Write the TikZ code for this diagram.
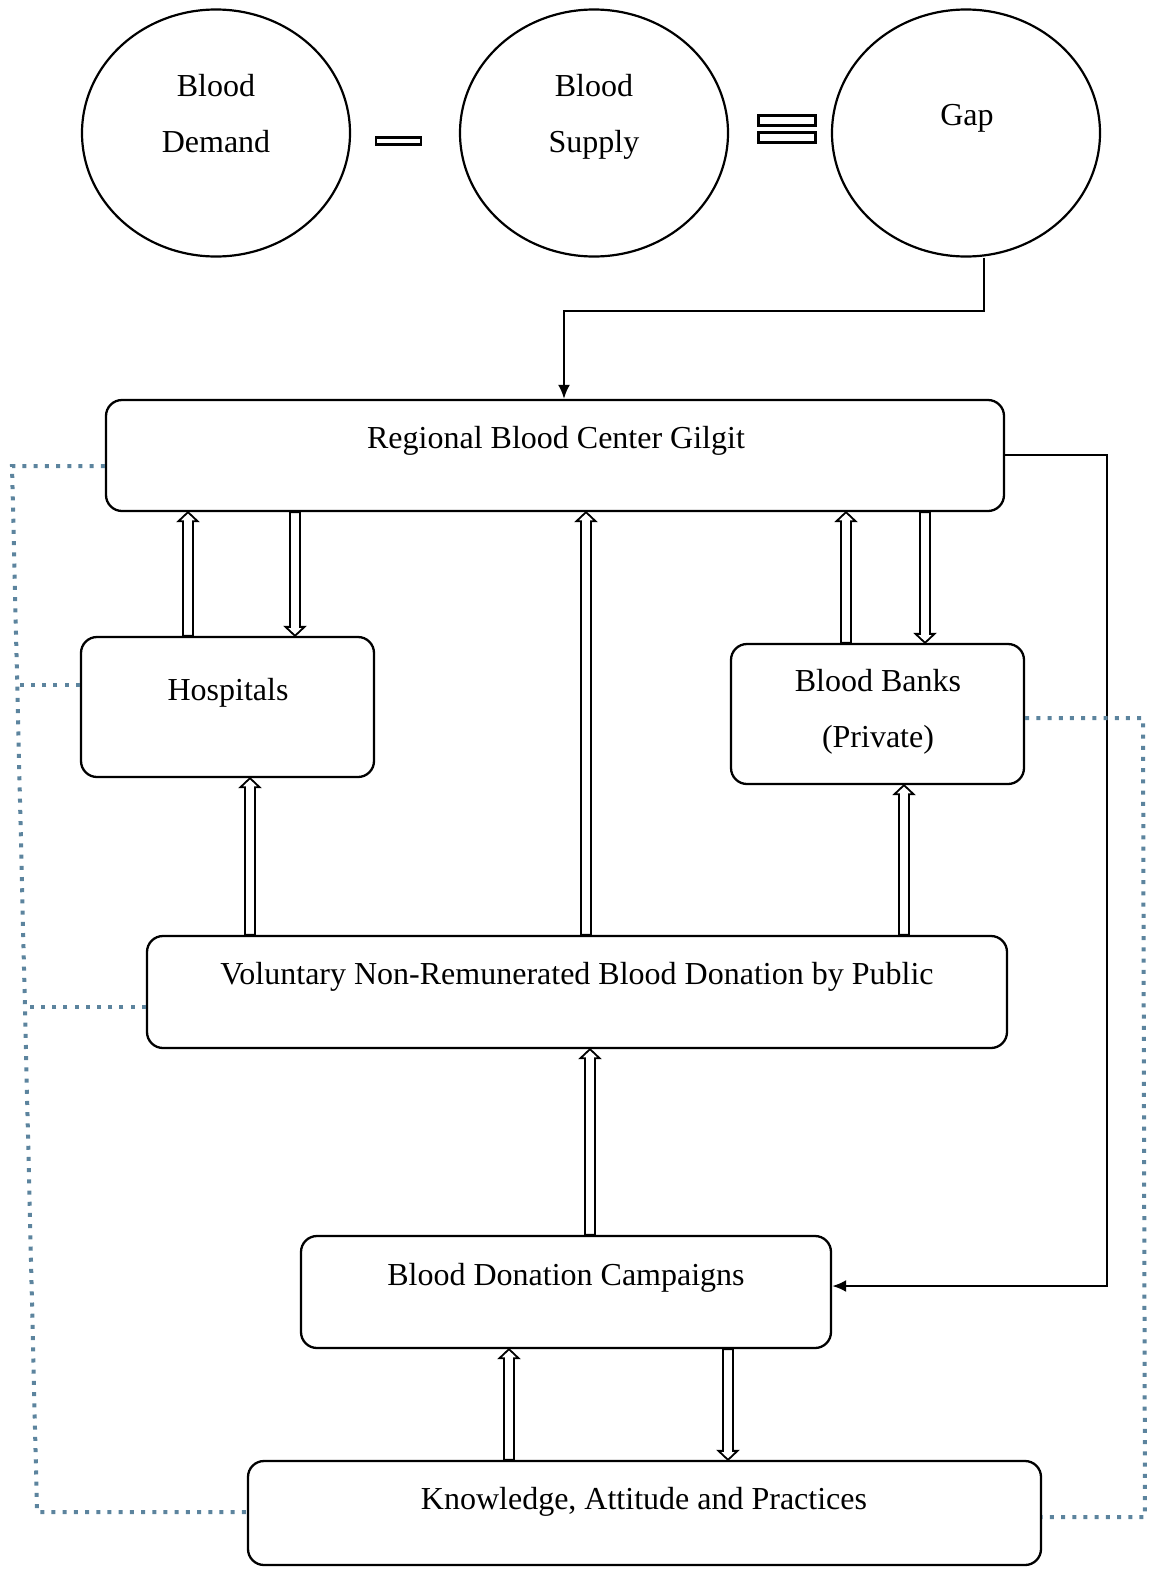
\documentclass[tikz,border=0pt]{standalone}
\usepackage{fontspec}
\setmainfont{Liberation Serif}
\usetikzlibrary{arrows.meta,calc,shapes.geometric}
\definecolor{dotc}{RGB}{92,132,158}
\begin{document}
\begin{tikzpicture}[x=1pt,y=-1pt,
  txt/.style={font=\fontsize{32}{56}\selectfont, anchor=base, inner sep=0pt},
  circ/.style={draw, line width=2.2pt, ellipse, minimum width=268pt, minimum height=247pt, inner sep=0pt},
  box/.style={draw, line width=2.3pt, rounded corners=16pt, inner sep=0pt},
  sym/.style={draw, line width=2.1pt, inner sep=0pt},
  conn/.style={draw, line width=2.3pt, -{Latex[length=14pt,width=12pt]}},
  dots/.style={draw=dotc, line width=4pt, dash pattern=on 4pt off 7.2pt},
  hollow/.style={line width=1.8pt, to path={let \p1=(\tikztostart), \p2=(\tikztotarget), \n1={sign(\y2-\y1)} in
     ({\x1-5pt},\y1) -- ({\x1-5pt},{\y2-\n1*9pt}) -- ({\x1-9.5pt},{\y2-\n1*9pt}) -- (\x1,\y2)
     -- ({\x1+9.5pt},{\y2-\n1*9pt}) -- ({\x1+5pt},{\y2-\n1*9pt}) -- ({\x1+5pt},\y1) -- cycle}}
]
\useasboundingbox (0,0) rectangle (1151,1569);

% circles
\node[circ] (dem) at (216,133) {};
\node[circ] (sup) at (594,133) {};
\node[circ] (gap) at (966,133) {};
\node[txt] (demt1) at (216,96) {Blood};
\node[txt] (demt2) at (216,152) {Demand};
\node[txt] (supt1) at (594,96) {Blood};
\node[txt] (supt2) at (594,152) {Supply};
\node[txt] (gapt) at (967,125) {Gap};

% minus and equals
\node[sym, minimum width=45pt, minimum height=7pt] (minus) at (398.5,141) {};
\node[sym, minimum width=57pt, minimum height=10pt] (eq1) at (787,120.5) {};
\node[sym, minimum width=57pt, minimum height=10pt] (eq2) at (787,137.5) {};

% boxes
\node[box, minimum width=898pt, minimum height=111pt] (rbc) at (555,455.5) {};
\node[box, minimum width=293pt, minimum height=140pt] (hosp) at (227.5,707) {};
\node[box, minimum width=293pt, minimum height=140pt] (bb) at (877.5,714) {};
\node[box, minimum width=860pt, minimum height=112pt] (vn) at (577,992) {};
\node[box, minimum width=530pt, minimum height=112pt] (camp) at (566,1292) {};
\node[box, minimum width=793pt, minimum height=104pt] (kap) at (644.5,1513) {};

\node[txt] (rbct) at (556,448) {Regional Blood Center Gilgit};
\node[txt] (hospt) at (228,700) {Hospitals};
\node[txt] (bbt1) at (878,691) {Blood Banks};
\node[txt] (bbt2) at (878,747) {(Private)};
\node[txt] (vnt) at (577,984) {Voluntary Non-Remunerated Blood Donation by Public};
\node[txt] (campt) at (566,1285) {Blood Donation Campaigns};
\node[txt] (kapt) at (644,1509) {Knowledge, Attitude and Practices};

% solid connectors
\draw[conn] ([xshift=18pt]gap.south) |- (564,311) -- (rbc.north -| 564,311);
\draw[conn] (rbc.east |- 0,455) -| (1107,1286) -- (camp.east |- 0,1286);

% hollow arrows
\draw[hollow] (hosp.north -| 188,0) to (rbc.south -| 188,0);
\draw[hollow] (rbc.south -| 295,0) to (hosp.north -| 295,0);
\draw[hollow] (bb.north -| 846,0) to (rbc.south -| 846,0);
\draw[hollow] (rbc.south -| 925,0) to (bb.north -| 925,0);
\draw[hollow] (vn.north -| 586,0) to (rbc.south -| 586,0);
\draw[hollow] (vn.north -| 250,0) to (hosp.south -| 250,0);
\draw[hollow] (vn.north -| 904,0) to (bb.south -| 904,0);
\draw[hollow] (camp.north -| 590,0) to (vn.south -| 590,0);
\draw[hollow] (kap.north -| 509,0) to (camp.south -| 509,0);
\draw[hollow] (camp.south -| 728,0) to (kap.north -| 728,0);

% dotted links
\coordinate (lt) at (12,466);
\coordinate (lb) at (37,1512);
\draw[dots] (rbc.west |- lt) -- (lt) -- (lb) -- (kap.west |- lb);
\draw[dots] (hosp.west |- 0,685) -- (17,685);
\draw[dots] (vn.west |- 0,1007) -- (25,1007);
\coordinate (rt) at (1143,718);
\coordinate (rb) at (1145,1517);
\draw[dots] (bb.east |- rt) -- (rt) -- (rb) -- (kap.east |- rb);
\end{tikzpicture}
\end{document}
